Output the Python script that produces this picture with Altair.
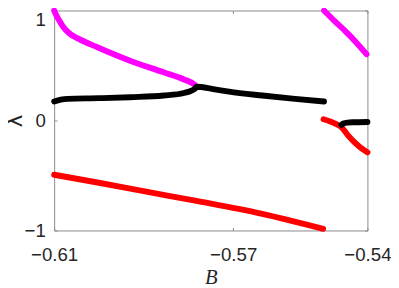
import altair as alt
import pandas as pd

# ---- data ----
mag1_B = [-0.6100, -0.6096, -0.6089, -0.6080, -0.6067, -0.6045, -0.6001, -0.5929, -0.5854, -0.5810, -0.5786, -0.5782]
mag1_L = [1.000, 0.964, 0.911, 0.853, 0.796, 0.742, 0.662, 0.542, 0.436, 0.373, 0.324, 0.307]

blk1_B = [-0.6100, -0.6085, -0.6070, -0.6000, -0.5930, -0.5855, -0.5810, -0.5795, -0.5785, -0.5782,
          -0.5745, -0.5709, -0.5635, -0.5562, -0.5497]
blk1_L = [0.173, 0.190, 0.197, 0.203, 0.212, 0.227, 0.250, 0.268, 0.290, 0.307,
          0.286, 0.262, 0.227, 0.197, 0.173]

red1_B = [-0.6100, -0.6000, -0.5900, -0.5782, -0.5635, -0.5499]
red1_L = [-0.493, -0.566, -0.643, -0.731, -0.849, -0.985]

mag2_B = [-0.5497, -0.5475, -0.5450, -0.5425, -0.5402]
mag2_L = [1.000, 0.910, 0.815, 0.710, 0.603]

red2_B = [-0.5498, -0.5472, -0.5457, -0.5443, -0.5421, -0.5400]
red2_L = [0.011, -0.028, -0.064, -0.138, -0.227, -0.290]

blk2_B = [-0.5458, -0.5453, -0.5434, -0.5400]
blk2_L = [-0.040, -0.025, -0.016, -0.013]

x_ticks = [-0.61, -0.57, -0.54]
y_ticks = [-1, 0, 1]

series = [
    ("m1", "magenta", mag1_B, mag1_L),
    ("b1", "black", blk1_B, blk1_L),
    ("r1", "red", red1_B, red1_L),
    ("m2", "magenta", mag2_B, mag2_L),
    ("r2", "red", red2_B, red2_L),
    ("b2", "black", blk2_B, blk2_L),
]
rows = []
for seg, col, bs, ls in series:
    for i, (b, l) in enumerate(zip(bs, ls)):
        rows.append({"seg": seg, "col": col, "B": b, "L": l, "i": i})
df = pd.DataFrame(rows)

AX = "#8a8a8a"
TXT = "#262626"

xs = alt.Scale(domain=[-0.61, -0.54], nice=False, zero=False)
ys = alt.Scale(domain=[-1, 1], nice=False, zero=False)

base = alt.Chart(df)

lines = base.mark_line(strokeWidth=6, strokeCap="round", strokeJoin="round",
                       interpolate="monotone").encode(
    x=alt.X("B:Q", scale=xs, axis=alt.Axis(
        orient="bottom", values=x_ticks, format=".2f", ticks=False, tickSize=0,
        domain=False, grid=False, labelPadding=16, labelFontSize=19,
        labelFlush=False, labelOverlap=False,
        labelFont="Liberation Sans", labelColor=TXT,
        title="B", titleFont="Liberation Serif", titleFontStyle="italic",
        titleFontWeight="normal", titleFontSize=21, titleColor=TXT, titlePadding=2)),
    y=alt.Y("L:Q", scale=ys, axis=alt.Axis(
        orient="left", values=y_ticks, format=".0f", ticks=False, tickSize=0,
        domain=False, grid=False, labelPadding=9, labelFontSize=19,
        labelFlush=False, labelOverlap=False,
        labelBaseline={"condition": {"test": "datum.value == 1", "value": "top"}, "value": "middle"},
        labelFont="Liberation Sans", labelColor=TXT,
        title="λ", titleFont="DejaVu Sans", titleFontWeight="normal",
        titleFontSize=22, titleColor=TXT, titlePadding=-2)),
    color=alt.Color("col:N", scale=alt.Scale(domain=["magenta", "black", "red"],
                                             range=["#ff00ff", "#000000", "#ff0000"]), legend=None),
    detail="seg:N",
    order="i:Q",
)

ticks_bl = base.mark_line(strokeOpacity=0).encode(
    x=alt.X("B:Q", scale=xs, axis=alt.Axis(orient="bottom", offset=-3, tickSize=3, ticks=True,
                                           tickColor=AX, labels=False, domain=False, grid=False,
                                           title=None, values=x_ticks)),
    y=alt.Y("L:Q", scale=ys, axis=alt.Axis(orient="left", offset=-3, tickSize=3, ticks=True,
                                           tickColor=AX, labels=False, domain=False, grid=False,
                                           title=None, values=y_ticks)),
    detail="seg:N",
)
ticks_tr = base.mark_line(strokeOpacity=0).encode(
    x=alt.X("B:Q", scale=xs, axis=alt.Axis(orient="top", offset=-3, tickSize=3, ticks=True,
                                           tickColor=AX, labels=False, domain=False, grid=False,
                                           title=None, values=x_ticks)),
    y=alt.Y("L:Q", scale=ys, axis=alt.Axis(orient="right", offset=-3, tickSize=3, ticks=True,
                                           tickColor=AX, labels=False, domain=False, grid=False,
                                           title=None, values=y_ticks)),
    detail="seg:N",
)

chart = alt.layer(lines, ticks_bl, ticks_tr).resolve_axis(
    x="independent", y="independent"
).properties(
    width=319, height=224,
    autosize=alt.AutoSizeParams(type="none"),
    padding={"left": 47, "top": 0, "right": 24, "bottom": 56},
).configure_view(stroke=AX, strokeWidth=1)

chart.save("out.html", embed_options={"renderer": "svg", "actions": False})
